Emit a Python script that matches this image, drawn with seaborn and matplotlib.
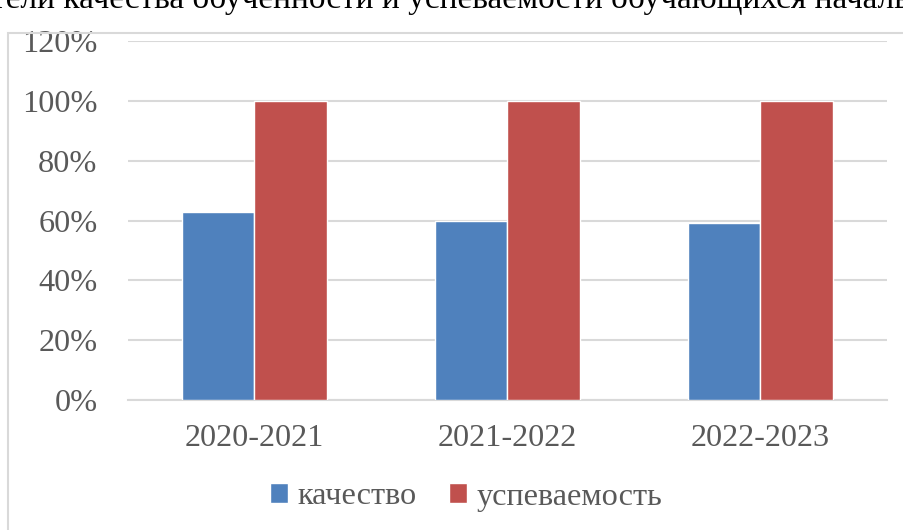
import pandas as pd
import matplotlib.pyplot as plt
import seaborn as sns
from matplotlib.patches import Rectangle
from matplotlib.ticker import PercentFormatter

# Data
years = ['2020-2021', '2021-2022', '2022-2023']
quality = [0.63, 0.60, 0.59]
progress = [1.00, 1.00, 1.00]
series_names = ['качество', 'успеваемость']
title = 'Показатели качества обученности и успеваемости обучающихся начальных классов'

df = pd.DataFrame({
    'Год': years * 2,
    'Показатель': [series_names[0]] * 3 + [series_names[1]] * 3,
    'Значение': quality + progress,
})

sns.set_style('white')
plt.rcParams['font.family'] = ['Liberation Serif', 'DejaVu Serif']
text_color = '#595959'
grid_color = '#D9D9D9'
fs = 23.2

fig = plt.figure(figsize=(9.04, 5.30), dpi=100)
ax = fig.add_axes([128 / 904, 1 - 400 / 530, (887 - 128) / 904, (400 - 41) / 530])

sns.barplot(data=df, x='Год', y='Значение', hue='Показатель',
            palette=['#4F81BD', '#C0504D'], width=0.57, saturation=1,
            ax=ax, zorder=3)

ax.set_ylim(0, 1.2)
ax.set_yticks([0, 0.2, 0.4, 0.6, 0.8, 1.0, 1.2])
ax.yaxis.set_major_formatter(PercentFormatter(1.0, decimals=0))
ax.grid(axis='y', color=grid_color, linewidth=1.5, zorder=0)
ax.set_axisbelow(True)
for side in ['top', 'right', 'left']:
    ax.spines[side].set_visible(False)
ax.spines['bottom'].set_color(grid_color)
ax.spines['bottom'].set_linewidth(1.5)
ax.set_xlabel('')
ax.set_ylabel('')
ax.tick_params(axis='y', length=0, pad=22, labelsize=fs, labelcolor=text_color)
ax.tick_params(axis='x', length=0, pad=17, labelsize=fs, labelcolor=text_color)

handles, labels = ax.get_legend_handles_labels()
ax.legend(handles, labels, loc='center', bbox_to_anchor=(466 / 904, 1 - 497 / 530),
          bbox_transform=fig.transFigure, ncol=2, frameon=False,
          fontsize=fs, labelcolor=text_color, handlelength=0.55, handleheight=0.55,
          handletextpad=0.3, columnspacing=1.0)

# chart frame
fig.patches.append(Rectangle((8 / 904, -0.2), 1.2, 1.2 - 33 / 530, transform=fig.transFigure,
                             fill=False, edgecolor=grid_color, linewidth=1.5))

# title, cut by the top edge as in the source picture
fig.text(-107 / 904, 1 - 8 / 530, title, fontsize=24, color='black', va='baseline', ha='left')

fig.savefig('out.png', dpi=100)
